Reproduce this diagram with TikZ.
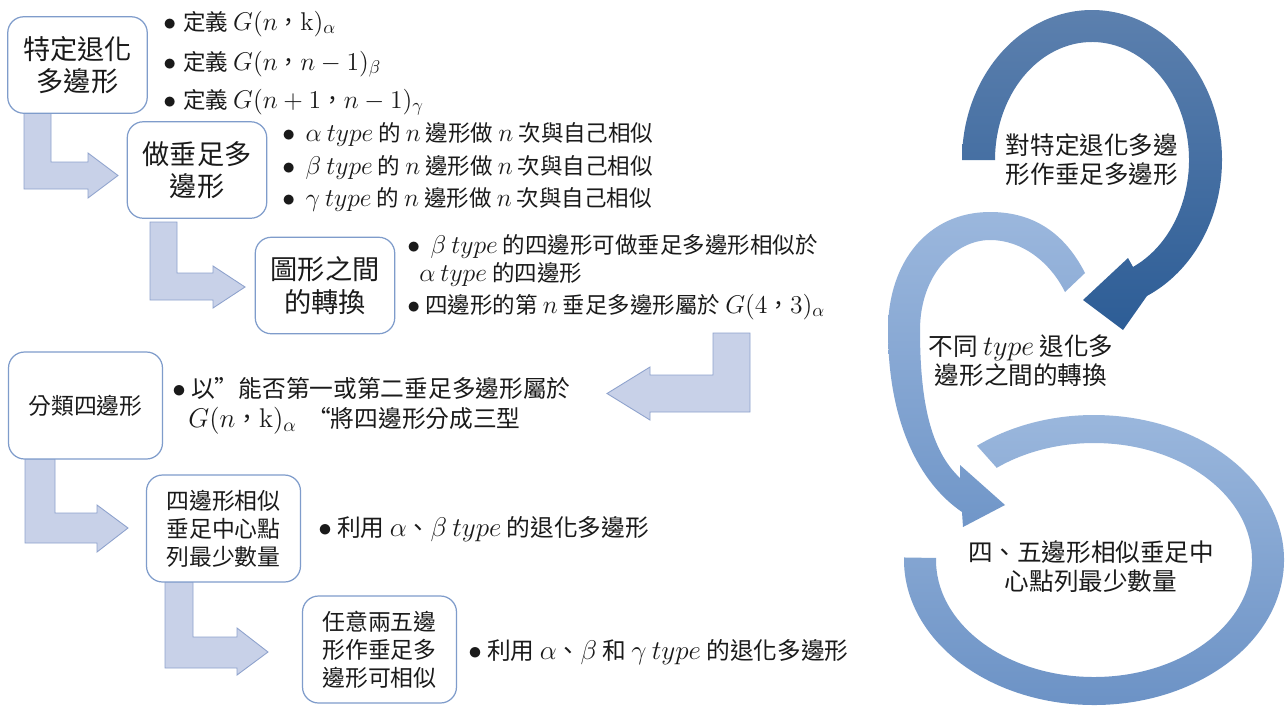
\RequirePackage{fix-cm}
\documentclass[tikz,border=0pt]{standalone}
\usepackage[no-math]{fontspec}
\setmainfont{Noto Sans CJK TC}
\DeclareMathSizes{12.8}{14.6}{10.5}{8}
\DeclareMathSizes{13.5}{15.4}{11}{8.5}
\DeclareMathSizes{14}{16}{11.5}{9}
\definecolor{boxline}{HTML}{7F9CCB}
\definecolor{arrfill}{HTML}{C8D1E8}
\definecolor{arrline}{HTML}{8EA2CD}
\definecolor{txt}{HTML}{1A1A1A}
\definecolor{dkA}{HTML}{5C80AE}
\definecolor{dkB}{HTML}{2D5D96}
\definecolor{ltA}{HTML}{9BB7DD}
\definecolor{ltB}{HTML}{7096C8}
\definecolor{lpA}{HTML}{9DB9DE}
\definecolor{lpB}{HTML}{6990C4}
\begin{document}
\begin{tikzpicture}[x=0.02cm,y=-0.02cm,
  box/.style={draw=boxline, line width=0.7pt, fill=white, rounded corners=0.32cm, align=center, text=txt, inner sep=0pt},
  bigbox/.style={box, minimum width=3.08cm, minimum height=2.14cm},
  smallbox/.style={box, minimum width=2.79cm, minimum height=1.93cm, font=\fontsize{15.5}{18.5}\selectfont},
  bent/.style={fill=arrfill, draw=arrline, line width=0.5pt, line join=miter},
  bl/.style={anchor=base west, inner sep=0pt, text=txt},
  sA/.style={font=\fontsize{12.8}{15}\selectfont},
  sB/.style={font=\fontsize{13.5}{16}\selectfont},
  rt/.style={align=center, text=txt, font=\fontsize{14}{16.5}\selectfont, inner sep=0pt}]
\useasboundingbox (0,0) rectangle (1287,711);
\fill[white] (0,0) rectangle (1287,711);

% ---------- bent arrows ----------
\path[bent] (24,113) -- (51,113) -- (51,162) -- (88,162) -- (88,153) -- (118,175.5) -- (88,198) -- (88,189) -- (24,189) -- cycle;
\path[bent] (150,222) -- (177,222) -- (177,273) -- (213,273) -- (213,266) -- (245,287) -- (213,308) -- (213,300) -- (150,300) -- cycle;
\path[bent] (713,333) -- (750,333) -- (750,412) -- (650,412) -- (650,420) -- (607,393.5) -- (650,367) -- (650,375) -- (713,375) -- cycle;
\path[bent] (25,459) -- (55,459) -- (55,513) -- (97,513) -- (97,505) -- (128,528) -- (97,552) -- (97,543) -- (25,543) -- cycle;
\path[bent] (165,582) -- (193,582) -- (193,637) -- (237,637) -- (237,628) -- (268,652) -- (237,675) -- (237,668) -- (165,668) -- cycle;

% ---------- boxes ----------
\node[smallbox] (b1) at (77.5,65) {特定退化\\多邊形};
\node[smallbox] (b2) at (197,170) {做垂足多\\邊形};
\node[smallbox] (b3) at (325,285.5) {圖形之間\\的轉換};
\node[bigbox, font=\fontsize{13}{16}\selectfont] (b4) at (85.5,405.5) {分類四邊形};
\node[bigbox, font=\fontsize{13}{16}\selectfont] (b5) at (223.5,528.5) {四邊形相似\\垂足中心點\\列最少數量};
\node[bigbox, font=\fontsize{13}{16}\selectfont] (b6) at (379.5,649.5) {任意兩五邊\\形作垂足多\\邊形可相似};

% ---------- bullet texts ----------
\node[bl,sA] (p1a) at (163,30) {$\bullet$\hspace{4pt}定義 $G(n$，$\mathrm{k})_{\alpha}$};
\node[bl,sA] (p1b) at (163,70) {$\bullet$\hspace{4pt}定義 $G(n$，$n-1)_{\beta}$};
\node[bl,sA] (p1c) at (163,108) {$\bullet$\hspace{4pt}定義 $G(n+1$，$n-1)_{\gamma}$};

\node[bl,sA] (p2a) at (282,141) {$\bullet$\hspace{6pt}$\alpha\ type$ 的 $n$ 邊形做 $n$ 次與自己相似};
\node[bl,sA] (p2b) at (282,174) {$\bullet$\hspace{6pt}$\beta\ type$ 的 $n$ 邊形做 $n$ 次與自己相似};
\node[bl,sA] (p2c) at (282,206) {$\bullet$\hspace{6pt}$\gamma\ type$ 的 $n$ 邊形做 $n$ 次與自己相似};

\node[bl,sA] (p3a) at (407,253) {$\bullet$\hspace{6pt}$\beta\ type$ 的四邊形可做垂足多邊形相似於};
\node[bl,sA] (p3a2) at (419,281) {$\alpha\ type$ 的四邊形};
\node[bl,sA] (p3b) at (407,313) {$\bullet$\hspace{3pt}四邊形的第 $n$ 垂足多邊形屬於 $G(4$，$3)_{\alpha}$};

\node[bl,sB] (p4a) at (172,397) {$\bullet$\hspace{3pt}以"能否第一或第二垂足多邊形屬於};
\node[bl,sB] (p4b) at (188,427) {$G(n$，$\mathrm{k})_{\alpha}$\hspace{6pt}“將四邊形分成三型};

\node[bl,sB] (p5) at (318,536) {$\bullet$\hspace{3pt}利用 $\alpha$、$\beta\ type$ 的退化多邊形};
\node[bl,sB] (p6) at (468,659) {$\bullet$\hspace{3pt}利用 $\alpha$、$\beta$ 和 $\gamma\ type$ 的退化多邊形};

% ---------- circular arrows ----------
\shade[top color=lpA, bottom color=lpB]
  ([shift={(1094,560)}]232:190 and 145) arc[start angle=232, end angle=541, x radius=190, y radius=145]
  -- ([shift={(1094,560)}]541:158 and 117) arc[start angle=541, end angle=232, x radius=158, y radius=117] -- cycle;

\shade[top color=ltA, bottom color=ltB]
  (1085,273) .. controls (1062,228) and (1028,212) .. (990,212)
  .. controls (928,212) and (888,262) .. (888,330)
  .. controls (888,420) and (918,482) .. (962,512)
  -- (963,527) -- (1005,505) -- (960,465) -- (960,478)
  .. controls (930,450) and (920,400) .. (920,330)
  .. controls (920,275) and (955,240) .. (990,240)
  .. controls (1022,240) and (1050,262) .. (1065,292) -- cycle;

\shade[top color=dkA, bottom color=dkB]
  ([shift={(1092,160)}]180:130 and 150) arc[start angle=180, end angle=425, x radius=130, y radius=150]
  -- (1123,330) -- (1083,300) -- (1128,258)
  -- ([shift={(1092,160)}]425:97 and 118) arc[start angle=425, end angle=180, x radius=97, y radius=118] -- cycle;

\node[rt] (r1) at (1092,160) {對特定退化多邊\\形作垂足多邊形};
\node[rt] (r2) at (1021,361) {不同 $type$ 退化多\\邊形之間的轉換};
\node[rt] (r3) at (1091,567) {四、五邊形相似垂足中\\心點列最少數量};
\end{tikzpicture}
\end{document}
